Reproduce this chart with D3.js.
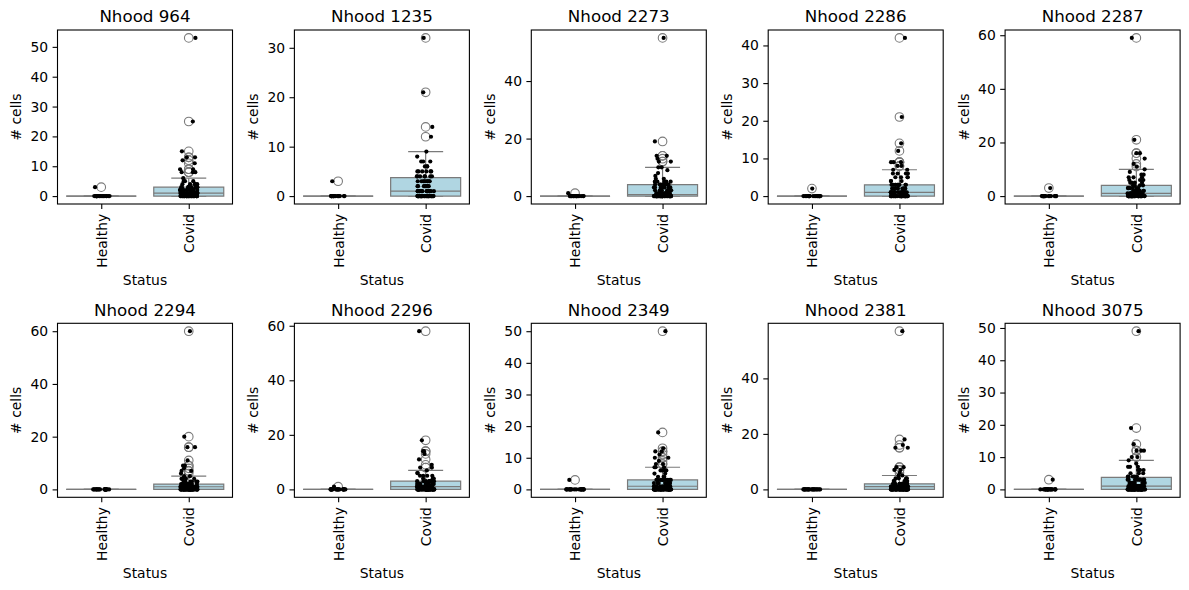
<!DOCTYPE html>
<html><head><meta charset="utf-8">
<script src="https://cdn.jsdelivr.net/npm/d3@7"></script>
<style>
body{margin:0;background:#fff}
text{font-family:"DejaVu Sans",sans-serif;fill:#000}
</style>
</head><body>
<svg id="c" width="1189" height="590"></svg>
<script>
// ---------- data ----------
const categories = ["Healthy", "Covid"];
const nhoods = ["964","1235","2273","2286","2287","2294","2296","2349","2381","3075"];
// per-sample counts, written as [value, number of samples with that value]
const healthy964  = [[0,19],[3,1]];
const healthy1235 = [[0,19],[3,1]];
const healthy2273 = [[0,19],[1,1]];
const healthy2286 = [[0,19],[2,1]];
const healthy2287 = [[0,19],[3,1]];
const healthy2294 = [[0,20]];
const healthy2296 = [[0,19],[1,1]];
const healthy2349 = [[0,19],[3,1]];
const healthy2381 = [[0,20]];
const healthy3075 = [[0,19],[3,1]];

const covid964  = [[0,35],[1,18],[2,14],[3,10],[4,5],[5,3],[6,1],[8,3],[9,2],[11,1],[12,1],[13,2],[15,1],[25,1],[53,1]];
const covid1235 = [[0,40],[1,16],[2,8],[3,9],[4,7],[5,6],[6,3],[7,3],[8,1],[9,1],[12,1],[14,1],[21,1],[32,1]];
const covid2273 = [[0,49],[1,10],[2,6],[3,7],[4,7],[5,5],[6,2],[7,1],[8,1],[9,1],[10,2],[12,2],[13,1],[14,2],[19,1],[55,1]];
const covid2286 = [[0,38],[1,18],[2,10],[3,10],[4,3],[5,4],[6,4],[7,2],[8,2],[9,3],[12,1],[14,1],[21,1],[42,1]];
const covid2287 = [[0,43],[1,14],[2,7],[3,7],[4,6],[5,4],[6,3],[7,3],[8,2],[9,1],[10,1],[11,1],[12,1],[14,1],[16,2],[21,1],[59,1]];
const covid2294 = [[0,40],[1,22],[2,13],[3,6],[4,4],[5,2],[6,1],[7,2],[8,1],[9,2],[11,1],[16,2],[20,1],[60,1]];
const covid2296 = [[0,42],[1,17],[2,10],[3,8],[4,5],[5,4],[6,2],[7,1],[8,2],[9,1],[11,1],[13,1],[14,2],[18,1],[58,1]];
const covid2349 = [[0,40],[1,18],[2,8],[3,9],[4,3],[5,2],[6,4],[7,3],[8,2],[9,1],[10,2],[11,1],[12,2],[13,1],[18,1],[50,1]];
const covid2381 = [[0,40],[1,22],[2,13],[3,7],[4,4],[5,2],[6,1],[7,2],[8,2],[15,2],[16,1],[18,1],[57,1]];
const covid3075 = [[0,42],[1,14],[2,8],[3,9],[4,5],[5,3],[6,4],[7,3],[8,1],[9,1],[10,2],[12,3],[14,1],[19,1],[49,1]];

const healthyData = [healthy964,healthy1235,healthy2273,healthy2286,healthy2287,healthy2294,healthy2296,healthy2349,healthy2381,healthy3075];
const covidData   = [covid964,covid1235,covid2273,covid2286,covid2287,covid2294,covid2296,covid2349,covid2381,covid3075];

const yTicks = [
  [0,10,20,30,40,50],[0,10,20,30],[0,20,40],[0,10,20,30,40],[0,20,40,60],
  [0,20,40,60],[0,20,40,60],[0,10,20,30,40,50],[0,20,40],[0,10,20,30,40,50]
];

// ---------- layout / style ----------
const W = 175, H = 174;
const colLeft = c => 57.5 + c * 236.9;
const rowTop = [30, 323.3];
const boxFill = "#b0d6e2";
const lineGray = "#7a7a7a";

const svg = d3.select("#c");

function expand(rle){ const out=[]; rle.forEach(([v,n])=>{ for(let k=0;k<n;k++) out.push(v); }); return out; }
function jit(p, g, i){ const s = Math.sin((p+1)*97.13 + (g+1)*31.7 + i*12.9898) * 43758.5453; return (s - Math.floor(s)) * 2 - 1; }

nhoods.forEach((name, p) => {
  const col = p % 5, row = Math.floor(p / 5);
  const g = svg.append("g").attr("transform", `translate(${colLeft(col)},${rowTop[row]})`);
  const groups = [expand(healthyData[p]), expand(covidData[p])];
  const all = groups.flat();
  const mn = d3.min(all), mx = d3.max(all), pad = 0.05 * (mx - mn);
  const y = d3.scaleLinear().domain([mn - pad, mx + pad]).range([H, 0]);
  const x = d3.scalePoint().domain(categories).range([0, W]).padding(0.5);
  const step = x.step();
  const bw = 0.8 * step;

  // boxes
  groups.forEach((vals, gi) => {
    const s = vals.slice().sort(d3.ascending);
    const q1 = d3.quantileSorted(s, 0.25), q2 = d3.quantileSorted(s, 0.5), q3 = d3.quantileSorted(s, 0.75);
    const iqr = q3 - q1;
    const lo = d3.min(s.filter(v => v >= q1 - 1.5 * iqr));
    const hi = d3.max(s.filter(v => v <= q3 + 1.5 * iqr));
    const fl = s.filter(v => v < lo || v > hi);
    const cx = x(categories[gi]);
    const bg = g.append("g");
    // whiskers
    bg.append("line").attr("x1",cx).attr("x2",cx).attr("y1",y(q3)).attr("y2",y(hi)).attr("stroke",lineGray).attr("stroke-width",1.2);
    bg.append("line").attr("x1",cx).attr("x2",cx).attr("y1",y(q1)).attr("y2",y(lo)).attr("stroke",lineGray).attr("stroke-width",1.2);
    [lo, hi].forEach(v => bg.append("line").attr("x1",cx-bw/4).attr("x2",cx+bw/4).attr("y1",y(v)).attr("y2",y(v)).attr("stroke",lineGray).attr("stroke-width",1.2));
    bg.append("path")
      .attr("d", `M${cx-bw/2},${y(q1)}H${cx+bw/2}V${y(q3)}H${cx-bw/2}Z`)
      .attr("fill", boxFill).attr("stroke", lineGray).attr("stroke-width", 1.2);
    bg.append("line").attr("x1",cx-bw/2).attr("x2",cx+bw/2).attr("y1",y(q2)).attr("y2",y(q2)).attr("stroke",lineGray).attr("stroke-width",1.2);
    // fliers
    bg.selectAll("circle.fl").data(fl).join("circle")
      .attr("cx", cx).attr("cy", d => y(d)).attr("r", 4.3)
      .attr("fill", "none").attr("stroke", lineGray).attr("stroke-width", 1.1);
  });

  // strip points
  groups.forEach((vals, gi) => {
    const cx = x(categories[gi]);
    g.append("g").selectAll("circle").data(vals).join("circle")
      .attr("cx", (d, i) => cx + jit(p, gi, i) * 0.1 * step)
      .attr("cy", d => y(d)).attr("r", 2.1).attr("fill", "#000");
  });

  // axes
  const ya = g.append("g").call(d3.axisLeft(y).tickValues(yTicks[p]).tickSize(4.9).tickPadding(4.4).tickSizeOuter(0));
  ya.select(".domain").remove();
  ya.selectAll("line").attr("stroke","#000").attr("stroke-width",1.1);
  ya.selectAll("text").attr("font-size","13.9px").attr("font-family","DejaVu Sans").attr("fill","#000");

  const xa = g.append("g").attr("transform",`translate(0,${H})`).call(d3.axisBottom(x).tickSize(4.9).tickSizeOuter(0));
  xa.select(".domain").remove();
  xa.selectAll("line").attr("stroke","#000").attr("stroke-width",1.1);
  xa.selectAll("text").attr("font-size","13.9px").attr("font-family","DejaVu Sans").attr("fill","#000")
    .attr("transform","rotate(-90)").attr("text-anchor","end")
    .attr("x",-9.8).attr("y",0).attr("dy","0.35em");

  // frame
  g.append("rect").attr("x",0).attr("y",0).attr("width",W).attr("height",H)
    .attr("fill","none").attr("stroke","#000").attr("stroke-width",1.1);

  // labels
  g.append("text").attr("x", W/2).attr("y", -7.6).attr("text-anchor","middle")
    .attr("font-size","16.7px").text("Nhood " + name);
  g.append("text").attr("x", W/2).attr("y", H + 81).attr("text-anchor","middle")
    .attr("font-size","13.9px").text("Status");
  g.append("text").attr("transform", `translate(-36.3,${H/2}) rotate(-90)`).attr("text-anchor","middle")
    .attr("font-size","13.9px").text("# cells");
});
</script>
</body></html>
